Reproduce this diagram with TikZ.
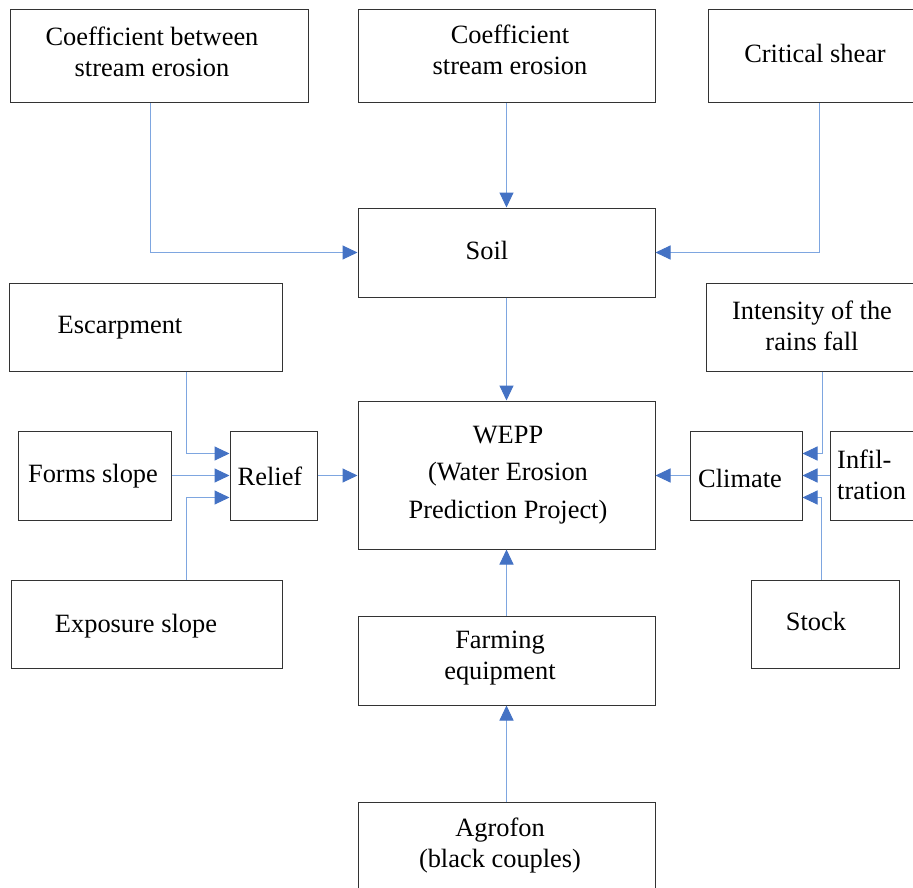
\documentclass[tikz,border=0pt]{standalone}
\usepackage{fontspec}
\setmainfont{Liberation Serif}
\usetikzlibrary{arrows.meta}
\definecolor{linkblue}{HTML}{7EA6E0}
\definecolor{tipblue}{HTML}{4472C4}
\definecolor{boxgray}{HTML}{333333}
\tikzset{
  box/.style={draw=boxgray,line width=1pt,inner sep=0pt,rectangle},
  lbl/.style={inner sep=0pt,align=center,font=\fontsize{26.4}{31}\selectfont},
  conn/.style={draw=linkblue,line width=1pt,-{Triangle[length=15pt,width=14pt,color=tipblue]}}
}
\begin{document}
\begin{tikzpicture}[x=1pt,y=-1pt]
\useasboundingbox (0,0) rectangle (913,888);
\clip (0,0) rectangle (913,888);
\fill[white] (0,0) rectangle (913,888);
% boxes
\node[box,minimum width=298pt,minimum height=93pt] (coefb) at (159,56.5) {};
\node[box,minimum width=297pt,minimum height=93pt] (coefs) at (506.5,56.5) {};
\node[box,minimum width=222pt,minimum height=93pt] (crit) at (819,56.5) {};
\node[box,minimum width=297pt,minimum height=89pt] (soil) at (506.5,252.5) {};
\node[box,minimum width=273pt,minimum height=88pt] (escar) at (145.5,327) {};
\node[box,minimum width=224pt,minimum height=88pt] (inten) at (818,327) {};
\node[box,minimum width=153pt,minimum height=89pt] (forms) at (94.5,475.5) {};
\node[box,minimum width=87pt,minimum height=89pt] (relief) at (273.5,475.5) {};
\node[box,minimum width=297pt,minimum height=148pt] (wepp) at (506.5,475) {};
\node[box,minimum width=112pt,minimum height=89pt] (climate) at (746,475.5) {};
\node[box,minimum width=100pt,minimum height=89pt] (infil) at (880,475.5) {};
\node[box,minimum width=271pt,minimum height=88pt] (expo) at (146.5,624) {};
\node[box,minimum width=297pt,minimum height=89pt] (farm) at (506.5,660.5) {};
\node[box,minimum width=148pt,minimum height=88pt] (stock) at (825,624) {};
\node[box,minimum width=297pt,minimum height=98pt] (agro) at (506.5,851) {};
% texts
\node[lbl] (tcoefb) at (152,52) {Coefficient between\\stream erosion};
\node[lbl] (tcoefs) at (510,49.5) {Coefficient\\stream erosion};
\node[lbl] (tcrit) at (815,53) {Critical shear};
\node[lbl] (tsoil) at (487,250) {Soil};
\node[lbl] (tescar) at (120,328) {Escarpment};
\node[lbl] (tinten) at (812,326) {Intensity of the\\rains fall};
\node[lbl] (tforms) at (93,476) {Forms slope};
\node[lbl] (trelief) at (270,476) {Relief};
\node[lbl,font=\fontsize{26.4}{37.5}\selectfont] (twepp) at (508,475) {WEPP\\(Water Erosion\\Prediction Project)};
\node[lbl] (tclimate) at (740,478) {Climate};
\node[lbl,align=left,anchor=west] (tinfil) at (837,475) {Infil-\\tration};
\node[lbl] (texpo) at (136,626) {Exposure slope};
\node[lbl] (tfarm) at (500,658.5) {Farming\\equipment};
\node[lbl] (tstock) at (816,621) {Stock};
\node[lbl] (tagro) at (500,846) {Agrofon\\(black couples)};
% connectors
\draw[conn] ([xshift=-9pt]coefb.south) |- (soil.west);
\draw[conn] (coefs.south) -- (soil.north);
\draw[conn] (crit.south) |- (soil.east);
\draw[conn] (soil.south) -- (wepp.north);
\draw[conn] ([xshift=40.5pt]escar.south) |- ([yshift=22pt]relief.west);
\draw[conn] (forms.east) -- (relief.west);
\draw[conn] ([xshift=39.5pt]expo.north) |- ([yshift=-22pt]relief.west);
\draw[conn] (relief.east) -- (relief.east -| wepp.west);
\draw[conn] (farm.north) -- (wepp.south);
\draw[conn] (agro.north) -- (farm.south);
\draw[conn] (climate.west) -- (climate.west -| wepp.east);
\draw[conn] ([xshift=4pt]inten.south) |- ([yshift=22pt]climate.east);
\draw[conn] (infil.west) -- (climate.east);
\draw[conn] ([xshift=-4pt]stock.north) |- ([yshift=-22pt]climate.east);
\end{tikzpicture}
\end{document}
